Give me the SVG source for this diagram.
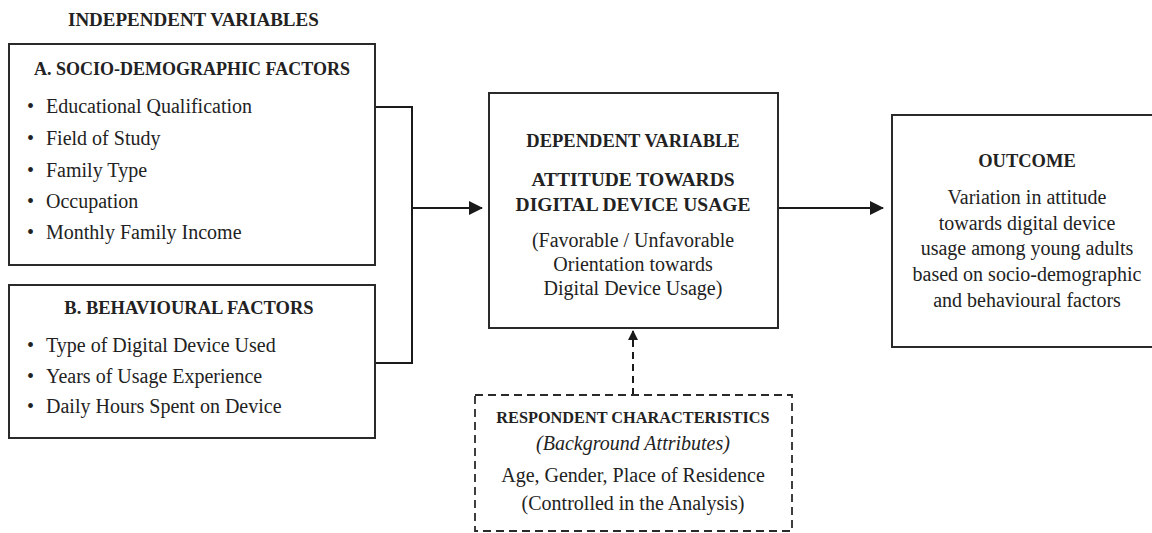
<svg xmlns="http://www.w3.org/2000/svg" width="1152" height="533" viewBox="0 0 1152 533">
<style>
.box{fill:#fff;stroke:#2a2a2a;stroke-width:2}
.dash{fill:#fff;stroke:#2a2a2a;stroke-width:1.8;stroke-dasharray:8,5}
.t{font-family:"Liberation Serif","Times New Roman",serif;font-size:20px;fill:#222}
.b{font-weight:bold;font-size:18.5px}
.c{text-anchor:middle}
.i{font-style:italic}
.ln{fill:none;stroke:#1a1a1a;stroke-width:2}
</style>
<defs>
<marker id="ah" markerWidth="10" markerHeight="10" refX="9" refY="5" orient="auto" markerUnits="userSpaceOnUse" viewBox="0 0 10 10">
<path d="M0,0 L10,5 L0,10 z" fill="#1a1a1a"/>
</marker>
<marker id="ah2" markerWidth="14" markerHeight="14" refX="13" refY="7" orient="auto" markerUnits="userSpaceOnUse" viewBox="0 0 14 14">
<path d="M0,0 L14,7 L0,14 z" fill="#1a1a1a"/>
</marker>
</defs>
<rect width="1152" height="533" fill="#fff"/>
<text class="t b" x="68" y="26" style="font-size:19px">INDEPENDENT VARIABLES</text>

<g id="connectors">
<path class="ln" d="M375,107 H412 V363 H375"/>
<line class="ln" x1="412" y1="208" x2="482" y2="208" marker-end="url(#ah2)"/>
<line class="ln" x1="778" y1="208" x2="883" y2="208" marker-end="url(#ah2)"/>
<line class="ln" x1="633" y1="395" x2="633" y2="331" stroke-dasharray="7,5" marker-end="url(#ah)"/>
</g>

<g id="socio">
<rect class="box" x="9" y="44" width="366" height="221"/>
<text class="t b c" x="192" y="75" style="font-size:18px">A. SOCIO-DEMOGRAPHIC FACTORS</text>
<text class="t" x="27" y="113">•</text><text class="t" x="46" y="113">Educational Qualification</text>
<text class="t" x="27" y="145">•</text><text class="t" x="46" y="145">Field of Study</text>
<text class="t" x="27" y="177">•</text><text class="t" x="46" y="177">Family Type</text>
<text class="t" x="27" y="208">•</text><text class="t" x="46" y="208">Occupation</text>
<text class="t" x="27" y="239">•</text><text class="t" x="46" y="239">Monthly Family Income</text>
</g>

<g id="behavioural">
<rect class="box" x="9" y="285" width="366" height="153"/>
<text class="t b c" x="189" y="314">B. BEHAVIOURAL FACTORS</text>
<text class="t" x="27" y="352">•</text><text class="t" x="46" y="352">Type of Digital Device Used</text>
<text class="t" x="27" y="383">•</text><text class="t" x="46" y="383">Years of Usage Experience</text>
<text class="t" x="27" y="413">•</text><text class="t" x="46" y="413">Daily Hours Spent on Device</text>
</g>

<g id="dependent">
<rect class="box" x="489" y="93" width="289" height="235"/>
<text class="t b c" x="633" y="147">DEPENDENT VARIABLE</text>
<text class="t b c" x="633" y="186" style="font-size:19.5px">ATTITUDE TOWARDS</text>
<text class="t b c" x="633" y="211" style="font-size:19.5px">DIGITAL DEVICE USAGE</text>
<text class="t c" x="633" y="247">(Favorable / Unfavorable</text>
<text class="t c" x="633" y="271">Orientation towards</text>
<text class="t c" x="633" y="295">Digital Device Usage)</text>
</g>

<g id="outcome">
<rect class="box" x="892" y="115" width="270" height="232"/>
<text class="t b c" x="1027" y="167">OUTCOME</text>
<text class="t c" x="1027" y="204">Variation in attitude</text>
<text class="t c" x="1027" y="230">towards digital device</text>
<text class="t c" x="1027" y="255">usage among young adults</text>
<text class="t c" x="1027" y="281">based on socio-demographic</text>
<text class="t c" x="1027" y="307">and behavioural factors</text>
</g>

<g id="respondent">
<rect class="dash" x="475" y="395" width="317" height="136"/>
<text class="t b c" x="633" y="423" style="font-size:16.3px">RESPONDENT CHARACTERISTICS</text>
<text class="t i c" x="633" y="450">(Background Attributes)</text>
<text class="t c" x="633" y="482">Age, Gender, Place of Residence</text>
<text class="t c" x="633" y="510">(Controlled in the Analysis)</text>
</g>
</svg>
